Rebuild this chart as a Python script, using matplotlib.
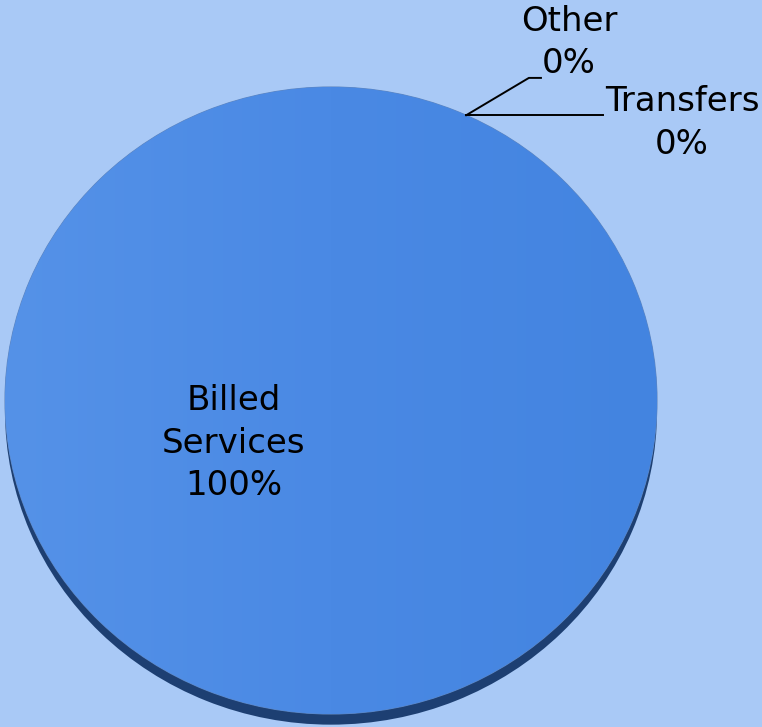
import numpy as np
import matplotlib
matplotlib.use("Agg")
import matplotlib.pyplot as plt
from matplotlib.colors import LinearSegmentedColormap

categories = ["Billed Services", "Transfers", "Other"]
values = [100, 0, 0]
pct_labels = ["100%", "0%", "0%"]

BG = "#a9c9f6"
FACE = "#4a89e4"
SIDE = "#1d3f72"

W, H = 762, 727
fig = plt.figure(figsize=(W / 100, H / 100), dpi=100, facecolor=BG)

# axes spanning the pie's top face; aspect left free so the disc is slightly flattened
ax = fig.add_axes([5 / W, 13 / H, 652 / W, 627 / H])

start = 65.5

# darker copy underneath gives the thickness of the tilted disc
side, _ = ax.pie(values, radius=1.0, center=(0, -0.034), startangle=start, counterclock=False,
                 colors=[SIDE] * 3, wedgeprops=dict(linewidth=0), frame=True)
for w in side:
    w.set_clip_on(False)
wedges, _ = ax.pie(values, radius=1.0, center=(0, 0), startangle=start, counterclock=False,
                   colors=[FACE] * 3,
                   wedgeprops=dict(linewidth=0.8, edgecolor="#5f86bf"), frame=True)
ax.set_xlim(-1, 1)
ax.set_ylim(-1, 1)
ax.set_aspect("auto")
ax.axis("off")

# soft left-to-right shading on the top face
cmap = LinearSegmentedColormap.from_list("face", ["#5592e8", "#4a89e4", "#4384e0"])
grad = np.tile(np.linspace(0, 1, 256), (16, 1))
img = ax.imshow(grad, extent=(-1, 1, -1, 1), cmap=cmap, aspect="auto", zorder=1.5,
                interpolation="bilinear")
img.set_clip_path(wedges[0])

font = "DejaVu Sans"
fs = 24.5
ls = 1.36

# label inside the main slice
ax.text(-0.298, -0.136, categories[0].replace(" ", "\n") + "\n" + pct_labels[0],
        ha="center", va="center", fontsize=fs, family=font, linespacing=ls,
        color="black", zorder=3)

# leader lines for the empty slices, anchored on their position on the rim
theta = np.deg2rad(wedges[1].theta1)
px, py = np.cos(theta), np.sin(theta)
ax.plot([px, 0.834], [py, py], color="black", lw=1.4, clip_on=False, zorder=4)
ax.plot([px, 0.607, 0.644], [py, 1.029, 1.029], color="black", lw=1.4, clip_on=False, zorder=4)

ax.text(0.730, 1.141, f"{categories[2]}\n{pct_labels[2]}", ha="center", va="center",
        fontsize=fs, family=font, linespacing=ls, clip_on=False)
ax.text(1.077, 0.885, f"{categories[1]}\n{pct_labels[1]}", ha="center", va="center",
        fontsize=fs, family=font, linespacing=ls, clip_on=False)

fig.savefig("out.png", dpi=100, facecolor=BG)
